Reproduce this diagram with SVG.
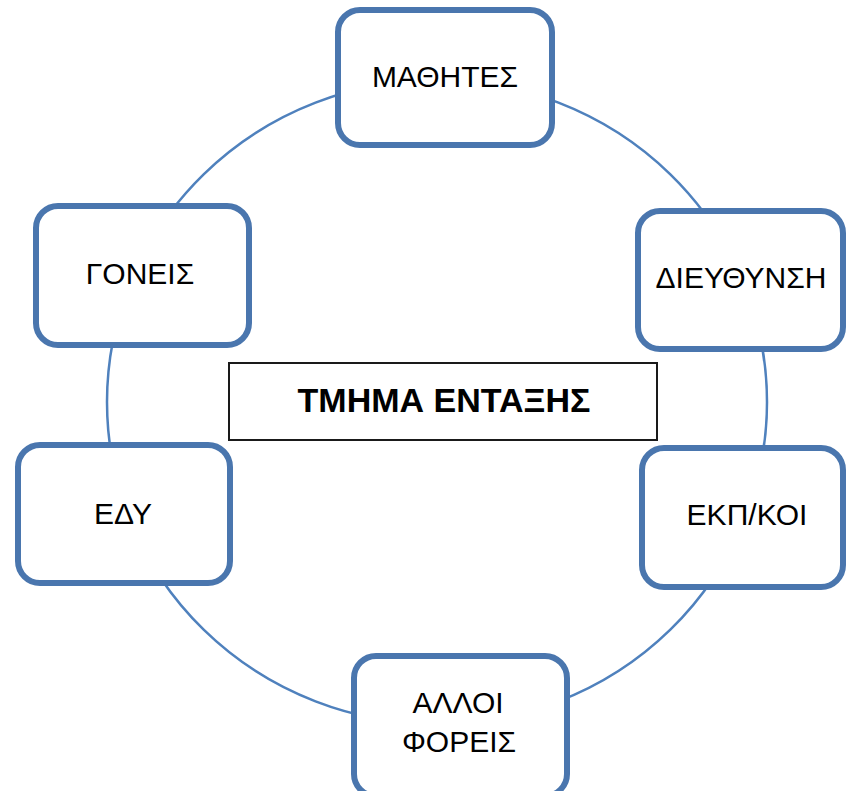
<svg xmlns="http://www.w3.org/2000/svg" width="846" height="791" viewBox="0 0 846 791">
<style>
.node rect{fill:#fff;stroke:#4A76AE;stroke-width:6}
.node text{font-family:"Liberation Sans",Arial,sans-serif;font-size:30px;fill:#000;text-anchor:middle}
.center rect{fill:#fff;stroke:#1a1a1a;stroke-width:2}
.center text{font-family:"Liberation Sans",Arial,sans-serif;font-size:34px;font-weight:bold;fill:#000;text-anchor:middle}
.ring{fill:none;stroke:#4F81BD;stroke-width:2.5}
</style>
<rect width="846" height="791" fill="#fff"/>
<g id="connectors">
<ellipse class="ring" cx="437" cy="402" rx="330" ry="322"/>
</g>
<g id="center" class="center">
<rect x="229" y="363" width="428" height="77"/>
<text x="444" y="412">ΤΜΗΜΑ ΕΝΤΑΞΗΣ</text>
</g>
<g id="mathites" class="node">
<rect x="338" y="10" width="214" height="135" rx="22"/>
<text x="445" y="87">ΜΑΘΗΤΕΣ</text>
</g>
<g id="dieythynsi" class="node">
<rect x="638" y="211" width="205" height="138" rx="22"/>
<text x="741" y="288">ΔΙΕΥΘΥΝΣΗ</text>
</g>
<g id="goneis" class="node">
<rect x="36" y="206" width="213" height="139" rx="22"/>
<text x="140" y="284">ΓΟΝΕΙΣ</text>
</g>
<g id="edy" class="node">
<rect x="18" y="445" width="212" height="138" rx="22"/>
<text x="123" y="524">ΕΔΥ</text>
</g>
<g id="ekpkoi" class="node">
<rect x="642" y="448" width="201" height="139" rx="22"/>
<text x="747" y="525">ΕΚΠ/ΚΟΙ</text>
</g>
<g id="alloi" class="node">
<rect x="354" y="656" width="213" height="140" rx="22"/>
<text x="458" y="713">ΑΛΛΟΙ</text>
<text x="459" y="752">ΦΟΡΕΙΣ</text>
</g>
</svg>
